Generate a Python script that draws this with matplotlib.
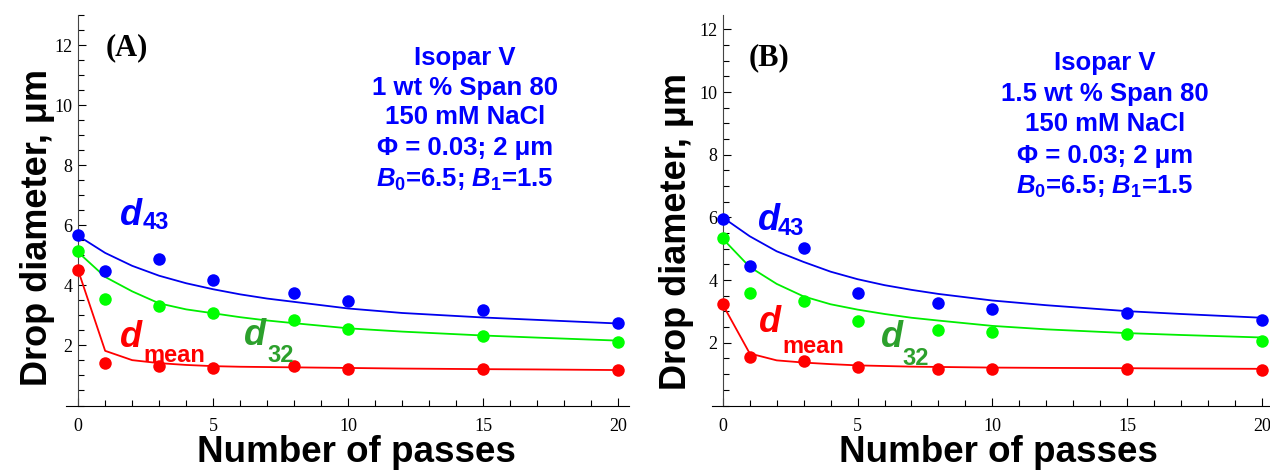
import matplotlib
matplotlib.use("Agg")
import matplotlib.pyplot as plt
from matplotlib.ticker import MultipleLocator

plt.rcParams['mathtext.fontset'] = 'custom'
plt.rcParams['mathtext.rm'] = 'Liberation Sans:bold'
plt.rcParams['mathtext.it'] = 'Liberation Sans:bold:italic'
plt.rcParams['mathtext.bf'] = 'Liberation Sans:bold'

# ---------------- data ----------------
passes = [0, 1, 3, 5, 8, 10, 15, 20]
fit_x = [0, 1, 2, 3, 4, 5, 6, 7, 8, 10, 12, 15, 17, 20]

# Panel A (1 wt % Span 80)
a_d43 = [5.67, 4.48, 4.87, 4.17, 3.74, 3.48, 3.17, 2.74]
a_d32 = [5.13, 3.54, 3.32, 3.08, 2.86, 2.56, 2.31, 2.13]
a_dmean = [4.50, 1.41, 1.30, 1.26, 1.33, 1.20, 1.20, 1.17]
a_fit_d43 = [5.65, 5.08, 4.65, 4.32, 4.07, 3.87, 3.70, 3.56, 3.45, 3.23, 3.08, 2.93, 2.85, 2.73]
a_fit_d32 = [5.10, 4.28, 3.80, 3.40, 3.20, 3.07, 2.94, 2.83, 2.74, 2.57, 2.46, 2.33, 2.26, 2.16]
a_fit_dmean = [4.50, 1.82, 1.51, 1.41, 1.35, 1.31, 1.29, 1.28, 1.27, 1.25, 1.23, 1.21, 1.20, 1.18]

# Panel B (1.5 wt % Span 80)
b_d43 = [5.95, 4.46, 5.04, 3.60, 3.28, 3.09, 2.95, 2.73]
b_d32 = [5.34, 3.60, 3.35, 2.71, 2.41, 2.33, 2.27, 2.06]
b_dmean = [3.24, 1.56, 1.43, 1.24, 1.18, 1.18, 1.18, 1.12]
b_fit_d43 = [6.00, 5.40, 4.92, 4.58, 4.27, 4.03, 3.84, 3.69, 3.56, 3.35, 3.20, 3.01, 2.92, 2.80]
b_fit_d32 = [5.32, 4.42, 3.88, 3.48, 3.23, 3.06, 2.92, 2.80, 2.71, 2.54, 2.43, 2.31, 2.25, 2.17]
b_fit_dmean = [3.22, 1.66, 1.44, 1.37, 1.32, 1.28, 1.26, 1.24, 1.23, 1.21, 1.20, 1.19, 1.18, 1.17]

xticks = [0, 5, 10, 15, 20]
yticks = [2, 4, 6, 8, 10, 12]

info_a = ["Isopar V", "1 wt % Span 80", "150 mM NaCl",
          r"Φ = 0.03; 2 μm", r"$B_0$=6.5; $B_1$=1.5"]
info_b = ["Isopar V", "1.5 wt % Span 80", "150 mM NaCl",
          r"Φ = 0.03; 2 μm", r"$B_0$=6.5; $B_1$=1.5"]

BLUE = '#0000ee'
GREEN = '#00ee00'
RED = '#ff0000'
DKGREEN = '#2ca02c'
TXTBLUE = '#0000ff'

W, H = 1270, 472
fig = plt.figure(figsize=(W / 100, H / 100), dpi=100)

def px_axes(x0, x1, y_top, y_bot):
    return fig.add_axes([x0 / W, 1 - y_bot / H, (x1 - x0) / W, (y_bot - y_top) / H])

axA = px_axes(66, 629, 15, 405.5)
axB = px_axes(712, 1270, 15, 405.5)

SANS = 'Liberation Sans'

def style(ax, xlim, ylim):
    ax.set_xlim(*xlim)
    ax.set_ylim(*ylim)
    for s in ['top', 'right']:
        ax.spines[s].set_visible(False)
    ax.spines['left'].set_position(('data', 0))
    ax.spines['left'].set_bounds(0, ylim[1])
    ax.spines['left'].set_color('#444444')
    ax.spines['bottom'].set_color('black')
    ax.set_xticks(xticks)
    ax.set_yticks(yticks)
    ax.xaxis.set_minor_locator(MultipleLocator(1))
    ax.yaxis.set_minor_locator(MultipleLocator(0.5))
    ax.tick_params(axis='both', which='major', direction='in', length=6, width=0.8,
                   labelsize=13)
    ax.tick_params(axis='both', which='minor', direction='in', length=4, width=0.8)
    ax.tick_params(axis='x', which='major', pad=9)
    ax.tick_params(axis='y', which='major', pad=4)
    for lab in ax.get_xticklabels() + ax.get_yticklabels():
        lab.set_fontfamily('Liberation Serif')
    ax.patch.set_alpha(0)

def draw(ax, d43, d32, dmean, f43, f32, fmean):
    ax.plot(fit_x, f43, color=BLUE, lw=1.3, zorder=2)
    ax.plot(fit_x, f32, color=GREEN, lw=1.3, zorder=2)
    ax.plot(fit_x, fmean, color=RED, lw=1.3, zorder=2)
    ax.plot(passes, d43, 'o', color='#0000ff', ms=9, mec='none', zorder=3)
    ax.plot(passes, d32, 'o', color='#00ff00', ms=9, mec='none', zorder=3)
    ax.plot(passes, dmean, 'o', color=RED, ms=9, mec='none', zorder=3)

style(axA, (-0.45, 20.4), (0, 13.0))
style(axB, (-0.4, 20.3), (0, 12.46))
draw(axA, a_d43, a_d32, a_dmean, a_fit_d43, a_fit_d32, a_fit_dmean)
draw(axB, b_d43, b_d32, b_dmean, b_fit_d43, b_fit_d32, b_fit_dmean)

# panel letters
axA.text(1.0, 11.9, "(A)", fontfamily='Liberation Serif', fontweight='bold',
         fontsize=22, ha='left', va='center')
axB.text(0.95, 11.1, "(B)", fontfamily='Liberation Serif', fontweight='bold',
         fontsize=22, ha='left', va='center')

# info blocks
ys_a = [11.57, 10.57, 9.6, 8.57, 7.5]
ys_b = [10.94, 9.94, 8.97, 7.97, 6.97]
for t, y in zip(info_a, ys_a):
    axA.text(14.33, y, t, color=TXTBLUE, fontfamily=SANS, fontweight='bold',
             fontsize=18.5, ha='center', va='center')
for t, y in zip(info_b, ys_b):
    axB.text(14.17, y, t, color=TXTBLUE, fontfamily=SANS, fontweight='bold',
             fontsize=18.5, ha='center', va='center')

def dlabel(ax, xd, yd, xs, ys, sub, color):
    ax.text(xd, yd, "d", color=color, fontfamily=SANS, fontweight='bold',
            fontstyle='italic', fontsize=26, ha='left', va='baseline')
    ax.text(xs, ys, sub, color=color, fontfamily=SANS, fontweight='bold',
            fontsize=17, ha='left', va='baseline')

dlabel(axA, 1.55, 6.0, 2.4, 5.87, "43", TXTBLUE)
dlabel(axA, 1.55, 1.96, 2.4, 1.46, "mean", RED)
dlabel(axA, 6.15, 2.0, 7.0, 1.46, "32", DKGREEN)
dlabel(axB, 1.3, 5.6, 2.02, 5.45, "43", TXTBLUE)
dlabel(axB, 1.35, 2.36, 2.2, 1.68, "mean", RED)
dlabel(axB, 5.85, 1.88, 6.68, 1.29, "32", DKGREEN)

# axis titles
fig.text(38 / W, 1 - 228 / H, "Drop diameter, μm", rotation=90, fontfamily=SANS,
         fontweight='bold', fontsize=26, ha='center', va='center')
fig.text(676 / W, 1 - 232 / H, "Drop diameter, μm", rotation=90, fontfamily=SANS,
         fontweight='bold', fontsize=26, ha='center', va='center')
fig.text(356 / W, 1 - 462 / H, "Number of passes", fontfamily=SANS,
         fontweight='bold', fontsize=26.5, ha='center', va='baseline')
fig.text(998 / W, 1 - 462 / H, "Number of passes", fontfamily=SANS,
         fontweight='bold', fontsize=26.5, ha='center', va='baseline')

fig.savefig("out.png", dpi=100)
